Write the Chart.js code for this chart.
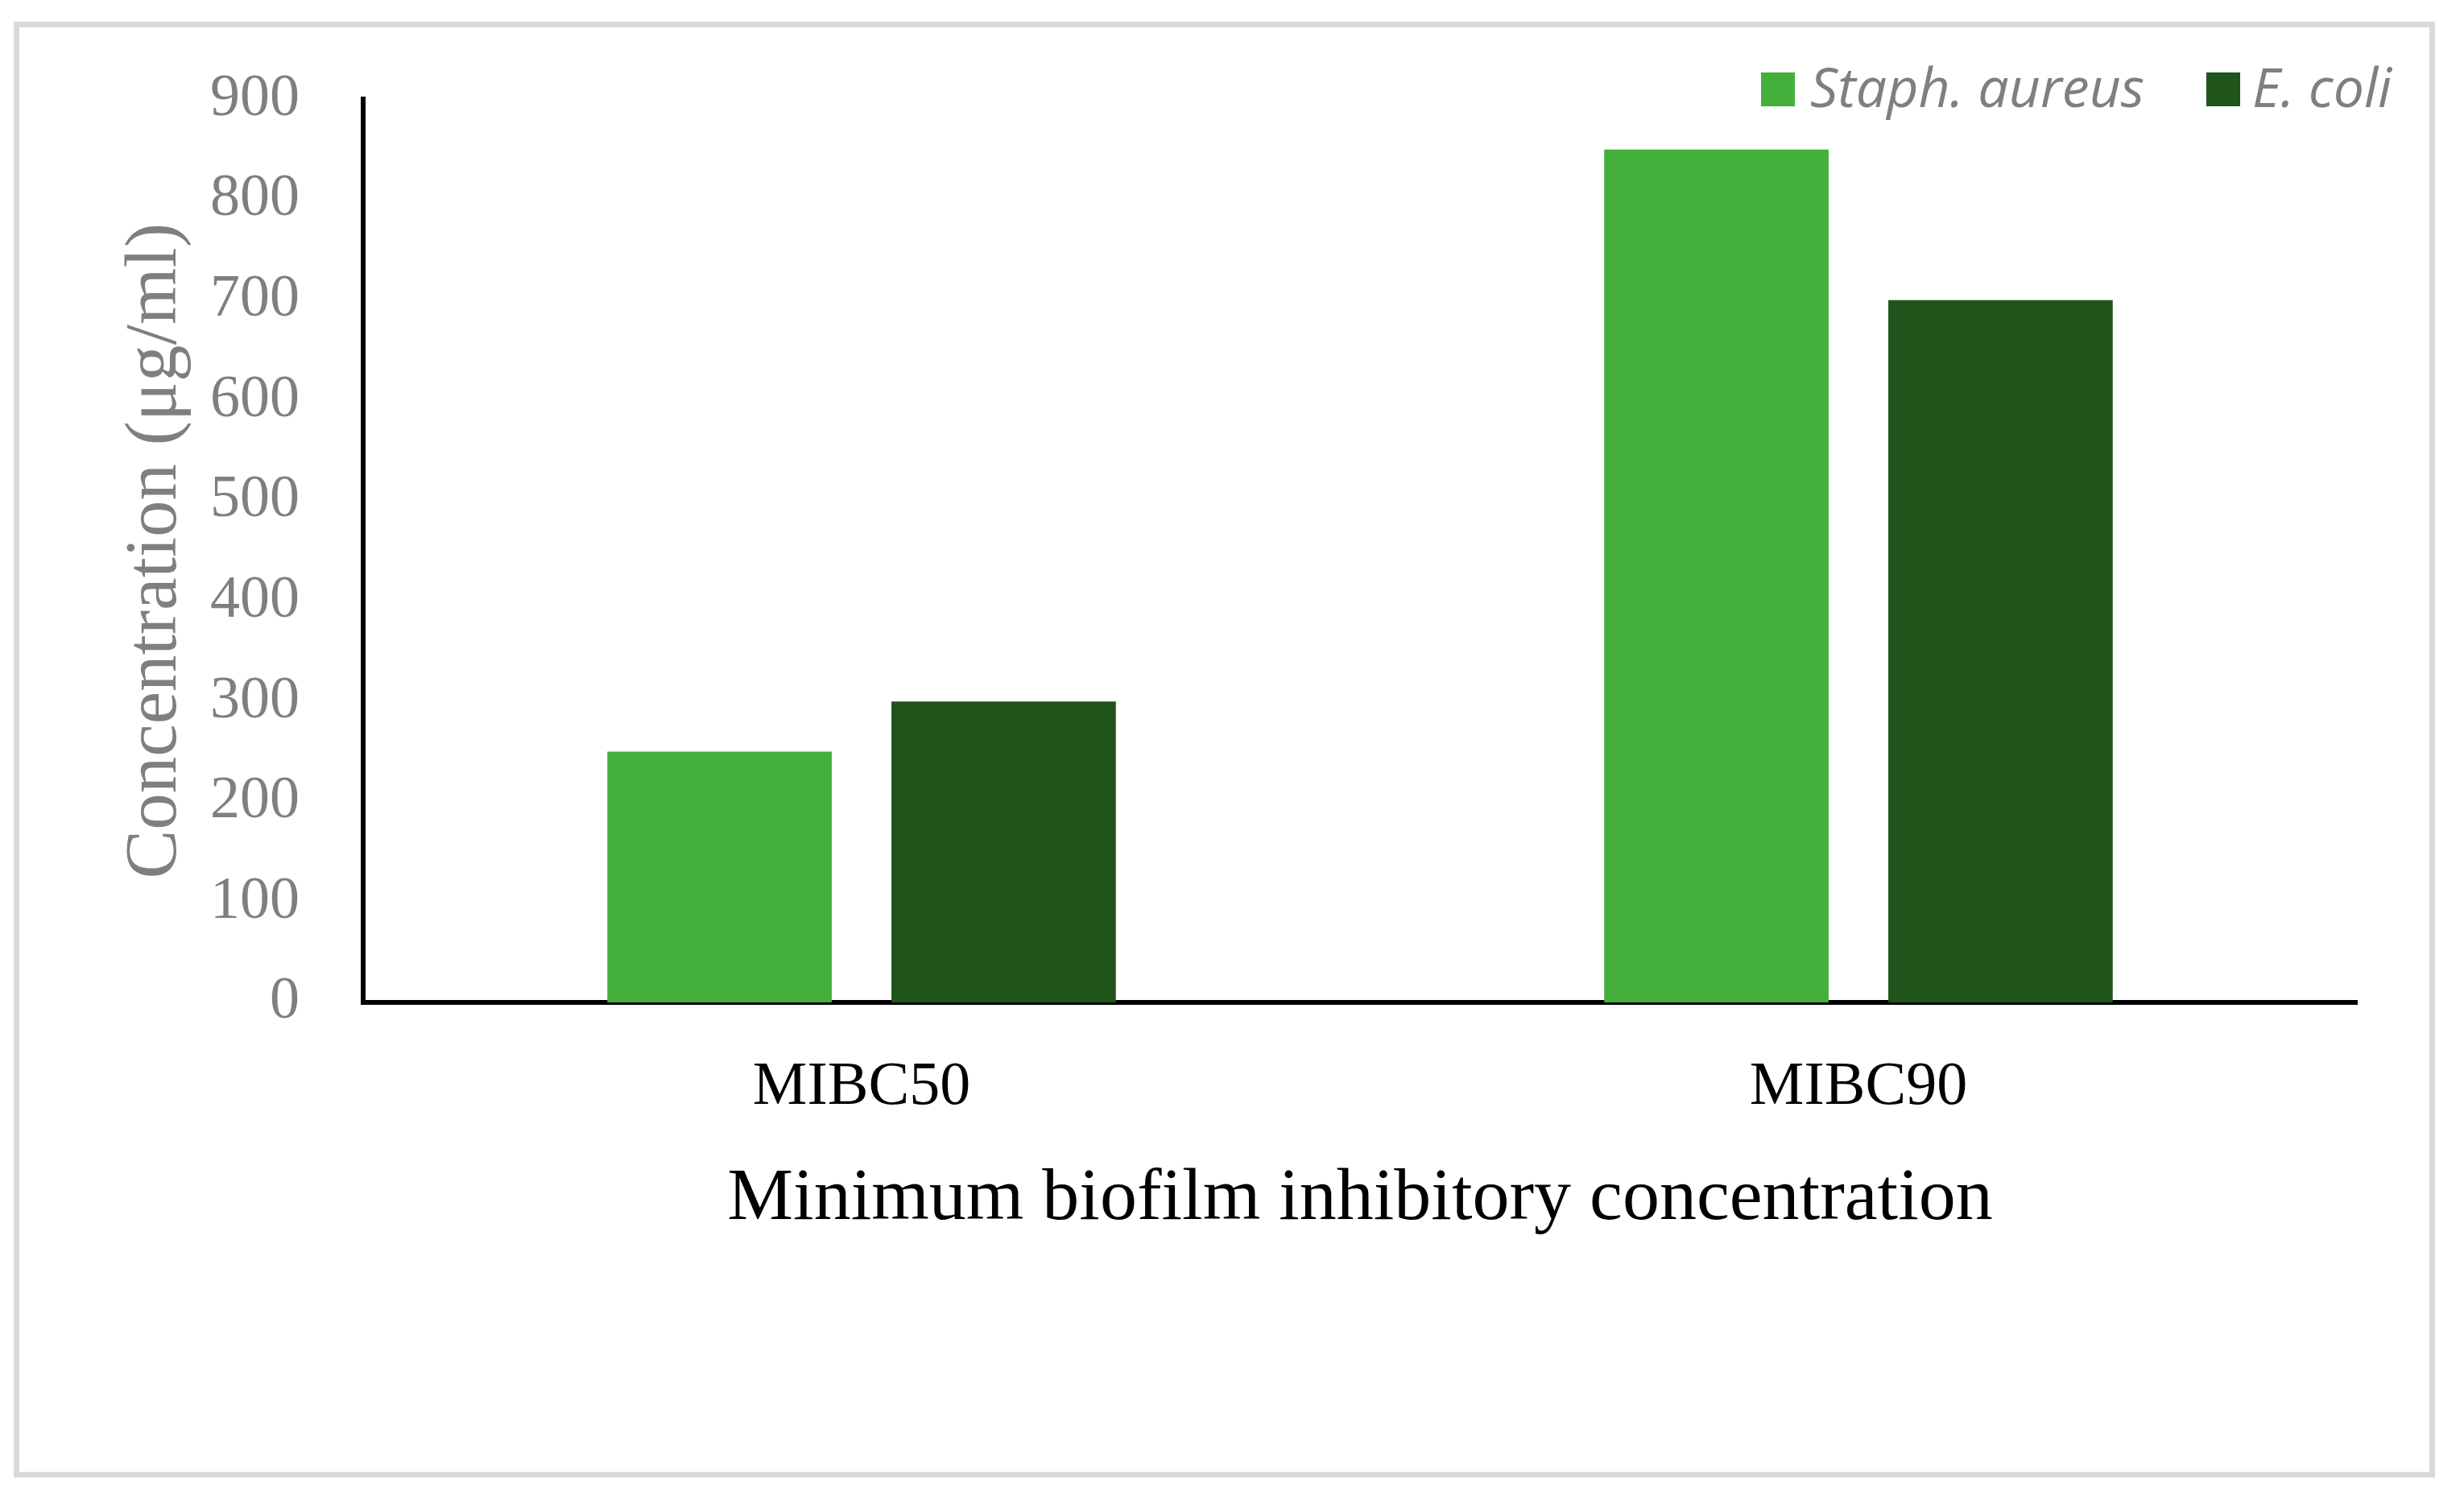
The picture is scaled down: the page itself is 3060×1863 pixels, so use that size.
<!DOCTYPE html>
<html>
<head>
<meta charset="utf-8">
<script src="https://cdn.jsdelivr.net/npm/chart.js@4.4.0/dist/chart.umd.min.js"></script>
<style>
  html, body { margin: 0; padding: 0; background: #fff; }
  #wrap { position: relative; width: 3060px; height: 1863px; }
  #frame { position: absolute; left: 17px; top: 27px; width: 3007px; height: 1808px;
           border: 7px solid #d9d9d9; box-sizing: border-box; pointer-events: none; }
  .lg-box { position: absolute; width: 42px; height: 42px; top: 90px; }
  .lg-text { position: absolute; top: 73px; font-family: "Open Sans", sans-serif; font-style: italic;
             font-size: 68px; line-height: 1; color: #7f7f7f; white-space: nowrap; }
</style>
</head>
<body>
<div id="wrap">
  <canvas id="barChart" width="3060" height="1863"></canvas>
  <div id="frame"></div>
  <div id="legend"></div>
</div>
<script>
const categories = ['MIBC50', 'MIBC90'];
const seriesNames = ['Staph. aureus', 'E. coli'];
const staphValues = [250, 850];
const ecoliValues = [300, 700];
const seriesColors = ['#44af3b', '#1f551a'];
const yMin = 0, yMax = 900, yStep = 100;

const data = {
    labels: categories,
    datasets: [{
        label: seriesNames[0],
        data: staphValues,
        backgroundColor: seriesColors[0],
        categoryPercentage: 0.57,
        barPercentage: 0.79
    }, {
        label: seriesNames[1],
        data: ecoliValues,
        backgroundColor: seriesColors[1],
        categoryPercentage: 0.57,
        barPercentage: 0.79
    }]
};

const config = {
    type: 'bar',
    data,
    options: {
        responsive: false,
        animation: false,
        devicePixelRatio: 1,
        layout: { padding: { left: 0, top: 123, right: 133, bottom: 0 } },
        plugins: {
            legend: { display: false },
            tooltip: { enabled: false }
        },
        scales: {
            x: {
                grid: { display: false, drawTicks: false },
                border: { display: true, color: '#000', width: 6 },
                ticks: {
                    color: '#000',
                    padding: 60,
                    font: { family: 'Liberation Serif', size: 76 }
                },
                title: {
                    display: true,
                    text: 'Minimum biofilm inhibitory concentration',
                    color: '#000',
                    font: { family: 'Liberation Serif', size: 92 },
                    padding: { top: 0, bottom: 318 }
                },
                afterFit: (scale) => { scale.height = 618; }
            },
            y: {
                min: yMin,
                max: yMax,
                grid: { display: false, drawTicks: false },
                border: { display: true, color: '#000', width: 6 },
                ticks: {
                    stepSize: yStep,
                    color: '#7f7f7f',
                    padding: 79,
                    font: { family: 'Liberation Serif', size: 74 }
                },
                title: {
                    display: true,
                    text: 'Concentration (μg/ml)',
                    color: '#7f7f7f',
                    font: { family: 'Liberation Serif', size: 91 },
                    padding: { top: 139, bottom: 0 }
                },
                afterFit: (scale) => { scale.width = 451; }
            }
        }
    }
};
const barChart = new Chart(document.getElementById('barChart').getContext('2d'), config);

// legend drawn as html, top right
const legendPos = [[2187, 2248], [2740, 2797]];
const legend = document.getElementById('legend');
seriesNames.forEach((name, i) => {
    const box = document.createElement('div');
    box.className = 'lg-box';
    box.style.left = legendPos[i][0] + 'px';
    box.style.background = seriesColors[i];
    legend.appendChild(box);
    const txt = document.createElement('div');
    txt.className = 'lg-text';
    txt.style.left = legendPos[i][1] + 'px';
    txt.textContent = name;
    legend.appendChild(txt);
});
</script>
</body>
</html>
